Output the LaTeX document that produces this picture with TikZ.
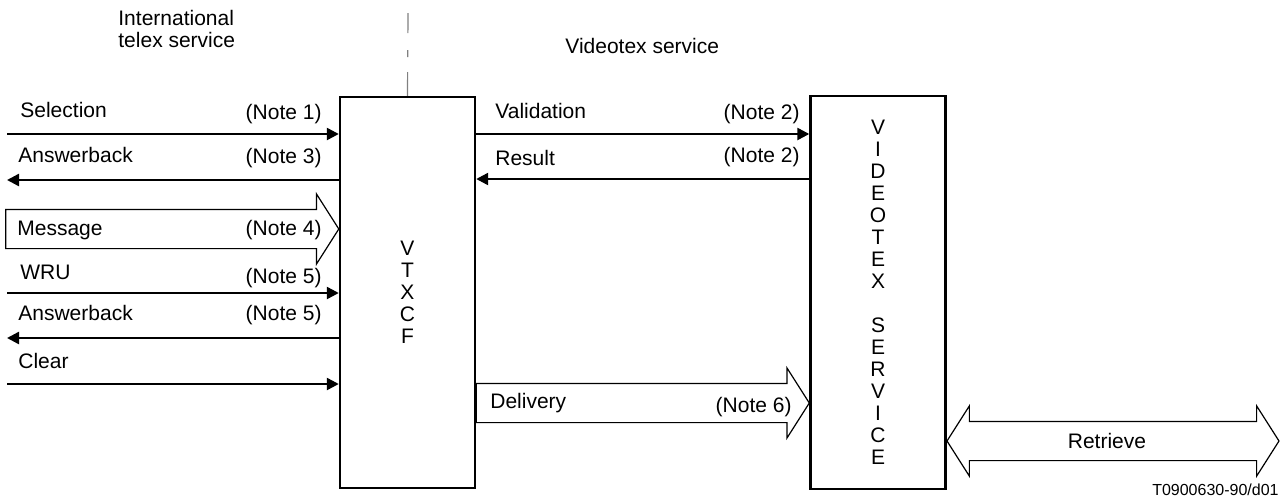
\documentclass[tikz,border=0pt]{standalone}
\usepackage{fontspec}
\setmainfont{Liberation Sans}
\usetikzlibrary{arrows.meta,positioning,shapes.arrows}

\begin{document}
\begin{tikzpicture}[x=0.5pt,y=-0.5pt,
    font=\fontsize{10.5}{11}\selectfont,
    box/.style={draw,line width=1.2pt,minimum width=67.5pt,minimum height=195.5pt,align=center,inner sep=0pt},
    sig/.style={line width=1.2pt,-{Triangle[length=6pt,width=6pt]}},
    lbl/.style={inner sep=0pt,anchor=base west},
    note/.style={inner sep=0pt,anchor=base east},
    flow/.style={single arrow,draw,line width=0.6pt,minimum height=166.5pt,text height=0pt,text depth=0pt,
      inner xsep=0pt,inner ysep=9.5pt,single arrow head extend=7.75pt,single arrow tip angle=115,outer sep=0pt},
    flowboth/.style={double arrow,draw,line width=0.6pt,minimum height=166pt,text height=0pt,text depth=0pt,
      inner xsep=0pt,inner ysep=9.5pt,double arrow head extend=7.75pt,double arrow tip angle=115,outer sep=0pt}]
  \useasboundingbox (0,0) rectangle (1287,499);

  % the two boxes
  \node[box] (vtxcf) at (407.5,292.5) {V\\T\\X\\C\\F};
  \node[box,minimum height=196.5pt] (vsvc) at (878,292.5)
    {V\\I\\D\\E\\O\\T\\E\\X\\[11pt]S\\E\\R\\V\\I\\C\\E};

  % border between the services
  \coordinate (split) at (408,13);
  \draw[gray,line width=0.6pt,dash pattern=on 10pt off 8.5pt on 3.5pt off 7.5pt on 20pt] (split) -- (vtxcf.north);
  \node[lbl,anchor=north west,align=left] (telex) at (118,10) {International\\telex service};
  \node[lbl] (vtx) at (565,53) {Videotex service};

  % telex side
  \coordinate (selL) at (7,134);
  \coordinate (ans1L) at (7,180);
  \coordinate (wruL) at (7,293);
  \coordinate (ans2L) at (7,338);
  \coordinate (clrL) at (7,384);
  \draw[sig] (selL) -- (vtxcf.west |- selL);
  \draw[sig] (vtxcf.west |- ans1L) -- (ans1L);
  \draw[sig] (wruL) -- (vtxcf.west |- wruL);
  \draw[sig] (vtxcf.west |- ans2L) -- (ans2L);
  \draw[sig] (clrL) -- (vtxcf.west |- clrL);
  \node[flow,anchor=tip] (msg) at (vtxcf.west |- 0,229) {};

  \node[lbl] (sel) at (20,117) {Selection};
  \node[note] at (322,119) {(Note 1)};
  \node[lbl] (ans1) at (18,162) {Answerback};
  \node[note] at (322,163) {(Note 3)};
  \node[lbl] (msgT) at (17,235) {Message};
  \node[note] at (322,235) {(Note 4)};
  \node[lbl] (wru) at (20,279) {WRU};
  \node[note] at (322,283) {(Note 5)};
  \node[lbl] (ans2) at (18,320) {Answerback};
  \node[note] at (322,320) {(Note 5)};
  \node[lbl] (clr) at (18,368) {Clear};

  % videotex side
  \draw[sig] (vtxcf.east |- 0,134) -- (vsvc.west |- 0,134);
  \draw[sig] (vsvc.west |- 0,179) -- (vtxcf.east |- 0,179);
  \node[flow,anchor=tip] (dlv) at (vsvc.west |- 0,403) {};
  \node[lbl] (val) at (495,118) {Validation};
  \node[note] at (800,119) {(Note 2)};
  \node[lbl] (res) at (495,165) {Result};
  \node[note] at (800,162) {(Note 2)};
  \node[lbl] (dlvT) at (490,408) {Delivery};
  \node[note] at (792,412) {(Note 6)};

  \node[flowboth] (ret) at (1113,441) {};
  \node[inner sep=0pt,anchor=base] (retT) at (1107,448) {Retrieve};
  \node[note,font=\fontsize{8}{9}\selectfont] (ref) at (1279,495) {T0900630-90/d01};
\end{tikzpicture}
\end{document}
